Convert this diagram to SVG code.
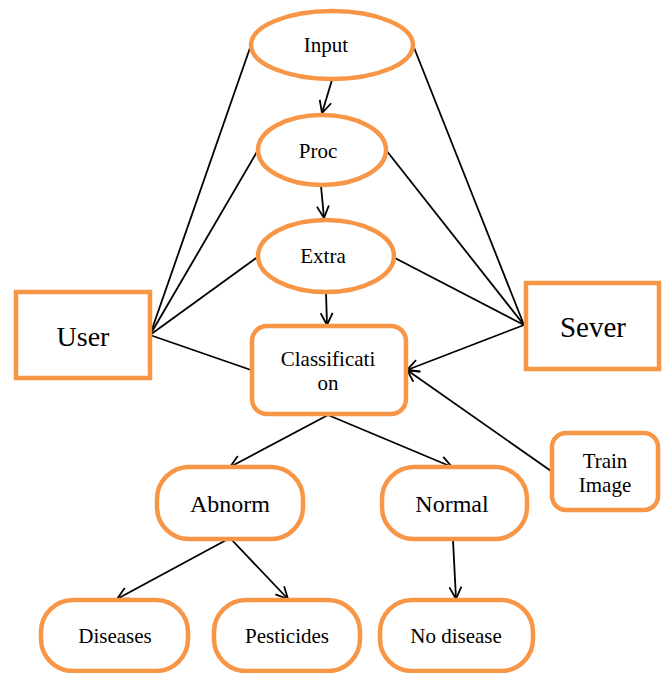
<svg xmlns="http://www.w3.org/2000/svg" width="666" height="673" viewBox="0 0 666 673">
<defs>
<style>
.n{fill:#fff;stroke:#F79646;stroke-width:4.5}
.t{font-family:'Liberation Serif','Times New Roman','DejaVu Serif',serif;fill:#000;text-anchor:middle}
.c{stroke:#000;stroke-width:1.8;fill:none}
.a{stroke:#000;stroke-width:1.8;fill:none;marker-end:url(#ah)}
</style>
<marker id="ah" viewBox="0 0 14 14" refX="13" refY="7" markerWidth="14" markerHeight="14" markerUnits="userSpaceOnUse" orient="auto">
<path d="M1,1 L13,7 L1,13" fill="none" stroke="#000" stroke-width="1.8"/>
</marker>
</defs>
<rect width="666" height="673" fill="#fff"/>
<g id="connectors">
<line class="c" x1="251" y1="45" x2="150" y2="335"/>
<line class="c" x1="413" y1="45" x2="524" y2="325"/>
<line class="c" x1="258" y1="150" x2="150" y2="335"/>
<line class="c" x1="386" y1="150" x2="524" y2="325"/>
<line class="c" x1="259" y1="256" x2="150" y2="335"/>
<line class="c" x1="393" y1="257" x2="524" y2="325"/>
<line class="c" x1="150" y1="335" x2="251" y2="370"/>
<line class="a" x1="524" y1="325" x2="407" y2="370"/>
<line class="a" x1="551" y1="471" x2="407" y2="370"/>
<line class="a" x1="332" y1="80" x2="322" y2="113"/>
<line class="a" x1="321" y1="186" x2="324" y2="218"/>
<line class="a" x1="326" y1="292" x2="327" y2="325"/>
<line class="a" x1="328" y1="415" x2="230" y2="467"/>
<line class="a" x1="328" y1="415" x2="452" y2="467"/>
<line class="a" x1="230" y1="538" x2="117" y2="599"/>
<line class="a" x1="230" y1="538" x2="288" y2="599"/>
<line class="a" x1="453" y1="540" x2="456" y2="599"/>
</g>
<g id="input"><ellipse class="n" cx="332" cy="45" rx="81" ry="34"/><text class="t" x="326" y="52" font-size="21">Input</text></g>
<g id="proc"><ellipse class="n" cx="322" cy="150" rx="64" ry="35"/><text class="t" x="318" y="158" font-size="21">Proc</text></g>
<g id="extra"><ellipse class="n" cx="326" cy="256" rx="68" ry="36"/><text class="t" x="323" y="263" font-size="21">Extra</text></g>
<g id="user"><rect class="n" x="16" y="292" width="134" height="86"/><text class="t" x="83" y="346" font-size="28">User</text></g>
<g id="sever"><rect class="n" x="526" y="283" width="133" height="86"/><text class="t" x="593" y="337" font-size="29">Sever</text></g>
<g id="classification"><rect class="n" x="252" y="326" width="154" height="88" rx="15"/><text class="t" x="328" y="366" font-size="21">Classificati</text><text class="t" x="328" y="390" font-size="21">on</text></g>
<g id="train"><rect class="n" x="552" y="433" width="106" height="77" rx="14"/><text class="t" x="605" y="468" font-size="21">Train</text><text class="t" x="605" y="492" font-size="21">Image</text></g>
<g id="abnorm"><rect class="n" x="157" y="467" width="146" height="72" rx="32"/><text class="t" x="230" y="512" font-size="24">Abnorm</text></g>
<g id="normal"><rect class="n" x="382" y="467" width="145" height="72" rx="32"/><text class="t" x="452" y="512" font-size="24">Normal</text></g>
<g id="diseases"><rect class="n" x="41" y="600" width="147" height="71" rx="32"/><text class="t" x="115" y="643" font-size="21">Diseases</text></g>
<g id="pesticides"><rect class="n" x="214" y="600" width="146" height="71" rx="32"/><text class="t" x="287" y="643" font-size="21">Pesticides</text></g>
<g id="nodisease"><rect class="n" x="380" y="600" width="153" height="71" rx="32"/><text class="t" x="456" y="643" font-size="21">No disease</text></g>
</svg>
